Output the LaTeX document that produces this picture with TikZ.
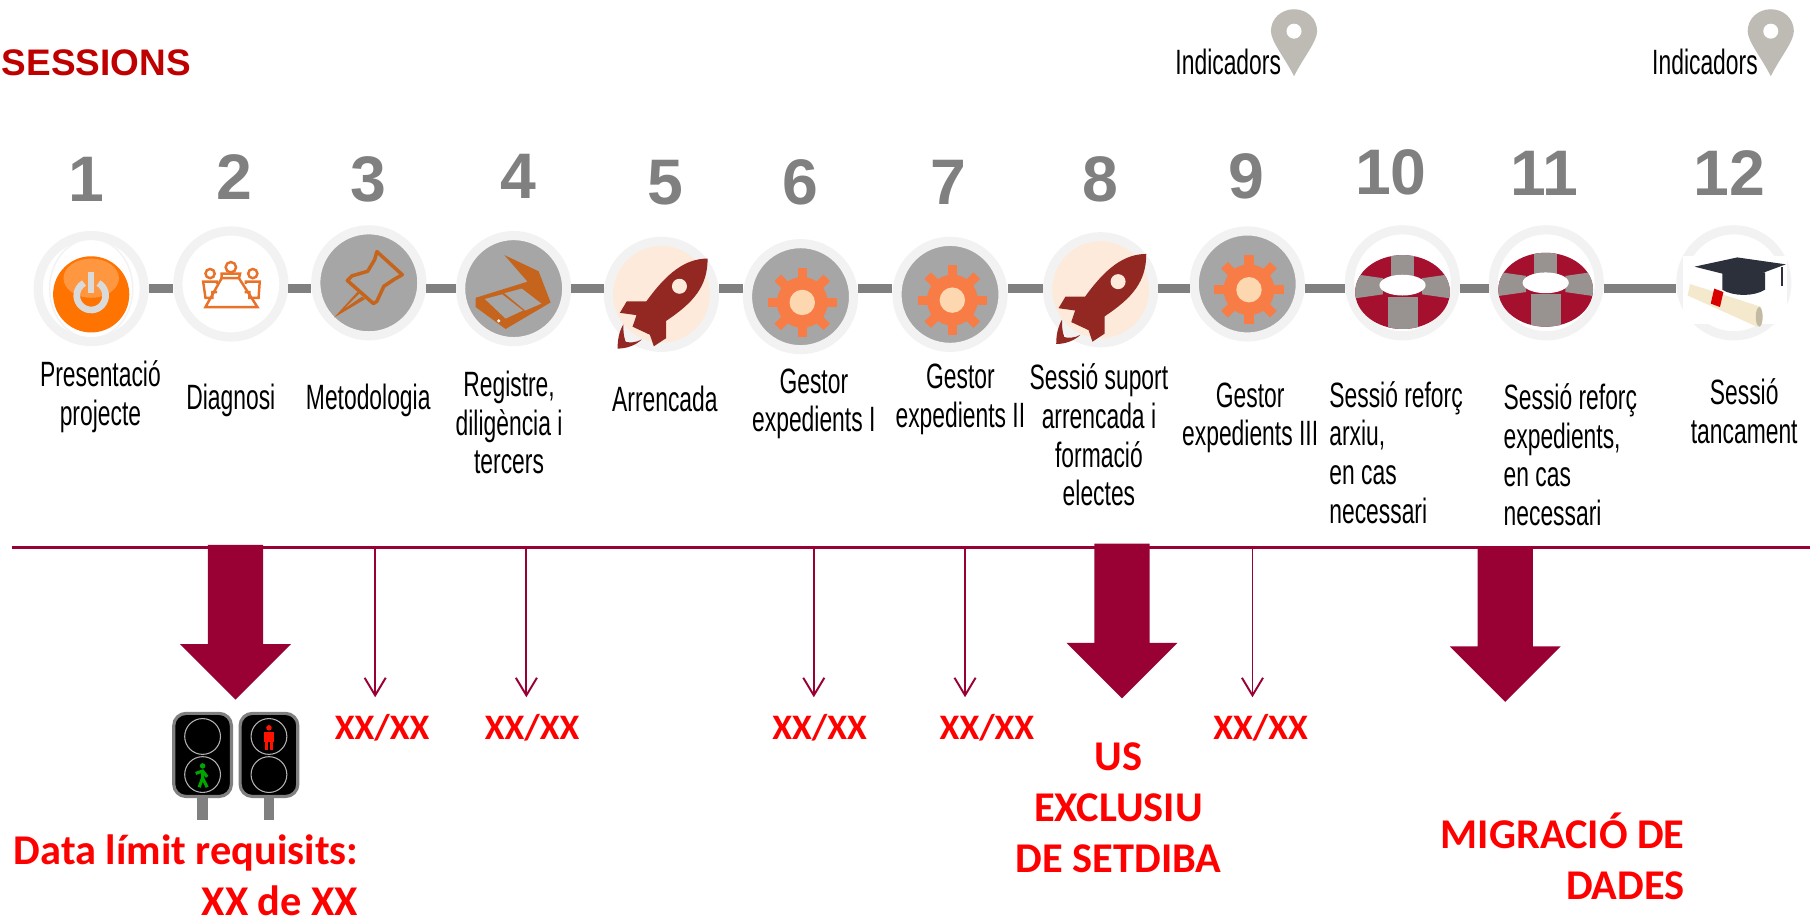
\documentclass[tikz,border=0pt]{standalone}
\usepackage{fontspec}
\setmainfont{Liberation Sans}
\newfontfamily\narrowfont[FakeStretch=0.65]{Liberation Sans}
\newfontfamily\redfont{Carlito}
\usepackage{tikz}
\usetikzlibrary{arrows.meta}

\definecolor{wine}{HTML}{990033}
\definecolor{ringgrey}{HTML}{F2F2F2}
\definecolor{discgrey}{HTML}{A6A6A6}
\definecolor{peach}{HTML}{FDEADA}
\definecolor{linkgrey}{HTML}{808080}
\definecolor{rocketred}{HTML}{932722}
\definecolor{gearorange}{HTML}{F87C46}
\definecolor{hubpeach}{HTML}{FDD7B0}
\definecolor{iconorange}{HTML}{C5651D}
\definecolor{meetorange}{HTML}{E8722A}
\definecolor{pingrey}{HTML}{BDBBB4}
\definecolor{buoyred}{HTML}{A5102F}
\definecolor{buoygrey}{HTML}{989290}
\definecolor{capblack}{HTML}{2B303A}
\definecolor{scrollcream}{HTML}{F4E9CC}

\tikzset{
    ringnode/.style={circle, draw=ringgrey, line width=2.6pt, minimum size=1.06cm, inner sep=0pt},
    numlabel/.style={text=linkgrey, font=\fontsize{18.3}{20}\selectfont\bfseries},
    steplabel/.style={text=black, align=center, font=\narrowfont\fontsize{10}{11}\selectfont},
    redlabel/.style={text=red, font=\redfont\fontsize{12.05}{14.5}\selectfont\bfseries},
    datelabel/.style={text=red, font=\redfont\fontsize{10.2}{12}\selectfont\bfseries},
    linkline/.style={linkgrey, line width=2.4pt},
    thinarrow/.style={wine, line width=0.55pt, -{Straight Barb[length=5pt,width=6pt,line width=0.55pt]}},
    gearicon/.pic={
        \foreach \a in {0,45,...,315}
            \fill[gearorange, rotate=\a] (-4,-30) rectangle (4,0);
        \fill[gearorange] (0,0) circle (22);
        \fill[hubpeach] (0,0) circle (11);
    },
    rocketicon/.pic={
        \fill[rocketred] (40,-34) .. controls (21,-34) and (5,-22) .. (-13,3) -- (-30,3) -- (-36,13) -- (-21.6,15) -- (-25,25)
            -- (-10,32) -- (-6.6,42) -- (4,35) -- (4,20) .. controls (28,4) and (40,-10) .. (40,-34) -- cycle;
        \fill[peach] (15.6,-10) circle (6.5);
        \fill[rocketred] (-33,23) .. controls (-37,30) and (-38,37) .. (-38,44) .. controls (-30,44) and (-22,41) .. (-17,36)
            .. controls (-22,39) and (-28,39) .. (-31,38) .. controls (-33,33) and (-33,28) .. (-33,23) -- cycle;
    },
    buoyicon/.pic={
        \begin{scope}
            \clip (0,8) ellipse (41 and 32);
            \fill[buoyred] (-45,-30) rectangle (45,45);
            \fill[buoygrey] (-10,-30) rectangle (10,-3);
            \fill[buoygrey] (-13,12) rectangle (13,45);
            \fill[buoygrey] (-45,-8) -- (-17,-4) -- (-17,10) -- (-45,14) -- cycle;
            \fill[buoygrey] (45,-8) -- (17,-4) -- (17,10) -- (45,14) -- cycle;
        \end{scope}
        \fill[white] (0,2) ellipse (20 and 9);
    },
    pinicon/.pic={
        \fill[pingrey] (0,58) .. controls (-8,42) and (-20,28) .. (-20,19) .. controls (-20,8) and (-11,0) .. (0,0)
            .. controls (11,0) and (20,8) .. (20,19) .. controls (20,28) and (8,42) .. (0,58) -- cycle;
        \fill[white] (0,19) circle (6.5);
    },
    bigarrow/.pic={
        \fill[wine] (-24,0) -- (24,0) -- (24,86) -- (48,86) -- (0,134) -- (-48,86) -- (-24,86) -- cycle;
    },
    lighticon/.pic={
        \fill[linkgrey] (-4.5,30) rectangle (4.5,56);
        \draw[linkgrey, line width=0.9pt, fill=black, rounded corners=3.5pt] (-25,-36) rectangle (25,36);
        \draw[linkgrey!60, line width=0.3pt, fill=black] (0,-16) circle (15.5);
        \draw[linkgrey!60, line width=0.3pt, fill=black] (0,17) circle (15.5);
    }
}

\begin{document}
\begin{tikzpicture}[x=0.011543cm, y=-0.011543cm]
    \useasboundingbox (0,0) rectangle (1568,797);

    \node[text=red!75!black, font=\fontsize{10.5}{12}\selectfont\bfseries, anchor=west, inner sep=0pt] (title) at (1,54) {SESSIONS};

    % indicadors
    \pic at (1121,8) {pinicon};
    \pic at (1534,8) {pinicon};
    \node[steplabel] (ind1) at (1064,54) {Indicadors};
    \node[steplabel] (ind2) at (1477,54) {Indicadors};

    % numbers
    \node[numlabel] (num1) at (75,155) {1};
    \node[numlabel] (num2) at (203,153) {2};
    \node[numlabel] (num3) at (319,155) {3};
    \node[numlabel] (num4) at (449,153) {4};
    \node[numlabel] (num5) at (576,158) {5};
    \node[numlabel] (num6) at (693,158) {6};
    \node[numlabel] (num7) at (822,158) {7};
    \node[numlabel] (num8) at (953,155) {8};
    \node[numlabel] (num9) at (1080,153) {9};
    \node[numlabel] (num10) at (1205,149) {10};
    \node[numlabel] (num11) at (1338,150) {11};
    \node[numlabel] (num12) at (1498,150) {12};

    % sessions
    \coordinate (rail) at (0,250);
    \node[ringnode, fill=white] (sess1) at (79,250) {};
    \node[ringnode, fill=white] (sess2) at (200,246) {};
    \node[ringnode, fill=discgrey] (sess3) at (319.5,245) {};
    \node[ringnode, fill=discgrey] (sess4) at (445,250) {};
    \node[ringnode, fill=peach] (sess5) at (573,255) {};
    \node[ringnode, fill=discgrey] (sess6) at (693.5,257) {};
    \node[ringnode, fill=discgrey] (sess7) at (823,255) {};
    \node[ringnode, fill=peach] (sess8) at (953.5,251) {};
    \node[ringnode, fill=discgrey] (sess9) at (1080.5,246) {};
    \node[ringnode, fill=white] (sess10) at (1215,245) {};
    \node[ringnode, fill=white] (sess11) at (1339.5,245) {};
    \node[ringnode, fill=white] (sess12) at (1502,245) {};

    \draw[linkline] (sess1.east |- rail) -- (sess2.west |- rail);
    \draw[linkline] (sess2.east |- rail) -- (sess3.west |- rail);
    \draw[linkline] (sess3.east |- rail) -- (sess4.west |- rail);
    \draw[linkline] (sess4.east |- rail) -- (sess5.west |- rail);
    \draw[linkline] (sess5.east |- rail) -- (sess6.west |- rail);
    \draw[linkline] (sess6.east |- rail) -- (sess7.west |- rail);
    \draw[linkline] (sess7.east |- rail) -- (sess8.west |- rail);
    \draw[linkline] (sess8.east |- rail) -- (sess9.west |- rail);
    \draw[linkline] (sess9.east |- rail) -- (sess10.west |- rail);
    \draw[linkline] (sess10.east |- rail) -- (sess11.west |- rail);
    \draw[linkline] (sess11.east |- rail) -- (sess12.west |- rail);

    % power button
    \draw[ringgrey, line width=0.4pt] (79,250) ellipse (36 and 43);
    \fill[orange!90!red] (79,255) circle (33);
    \fill[white, opacity=0.25] (79,241) ellipse (24 and 17);
    \draw[ringgrey!90!black, line width=1.9pt] (85.25,245.2) arc (-60:240:12.5);
    \draw[ringgrey!90!black, line width=1.7pt] (79,236) -- (79,254);

    % meeting
    \begin{scope}[shift={(200,246)}, meetorange, line width=0.7pt]
        \draw (-22,20) -- (23,20) -- (7,-5) -- (-8,-5) -- cycle;
        \draw (0,-14.5) circle (4.5);
        \draw (-8,-5) -- (-8,-9) -- (8,-9) -- (7,-5);
        \draw (-18,-9) circle (4);
        \draw (19,-9) circle (4);
        \draw (-12,7) -- (-16,7) -- (-16,12) -- (-22,12) -- (-24,-2) -- (-12,-2) -- (-12,0);
        \draw (12,7) -- (16,7) -- (16,12) -- (24,12) -- (25,-2) -- (13,-2) -- (13,0);
    \end{scope}

    % pin
    \begin{scope}[shift={(319.5,245)}, iconorange]
        \draw[line width=1pt, line join=round] (7,-27) -- (29,-7) -- (22,-3) -- (13,3) -- (7,16) -- (4,18) -- (-18.6,-2) -- (-14.6,-6) -- (-1,-10) -- (5,-20) -- cycle;
        \fill (-10,8) -- (-30,30) -- (-3,14) -- (-6,12) -- (-22,23) -- (-8,9) -- cycle;
    \end{scope}

    % scanner
    \begin{scope}[shift={(445,250)}]
        \fill[iconorange] (-8,-29) -- (21.6,-15) -- (32,12) -- (-7,35) -- (-33,16) -- (-33,8) -- (12,-6) -- cycle;
        \fill[discgrey] (-25,9) -- (-10,5) -- (8,19) -- (-7,26) -- cycle;
        \fill[discgrey] (-8,4) -- (7,0) -- (24,13) -- (10,19) -- cycle;
        \fill[ringgrey] (-13,28) circle (1.5);
    \end{scope}

    \pic at (573,258) {rocketicon};
    \pic at (953,254) {rocketicon};
    \pic at (695,262) {gearicon};
    \pic at (825,260) {gearicon};
    \pic at (1082,251) {gearicon};
    \pic at (1215,245) {buoyicon};
    \pic at (1339,243) {buoyicon};

    % cap and scroll
    \begin{scope}[shift={(1502,245)}]
        \fill[white] (-44,-23) rectangle (46,36);
        \fill[capblack] (-10,-9) -- (-10,6) .. controls (0,12) and (17,12) .. (27,6) -- (27,-9) -- cycle;
        \fill[capblack] (-34,-14) -- (3,-22) -- (45,-16) -- (10,-3) -- cycle;
        \draw[capblack, line width=0.6pt] (42,-14) -- (42,3);
        \fill[scrollcream] (-38,1) -- (24,21) -- (20,38) -- (-40,11) -- cycle;
        \fill[scrollcream!80!black] (22,29.5) ellipse (3 and 8.5);
        \fill[red!85!black] (-17,5) -- (-9,8) -- (-12,21) -- (-20,18) -- cycle;
    \end{scope}

    % step labels
    \node[steplabel] (lab1) at (87,343.5) {Presentació\\projecte};
    \node[steplabel] (lab2) at (200,347) {Diagnosi};
    \node[steplabel] (lab3) at (319,347) {Metodologia};
    \node[steplabel] (lab4) at (441,366) {Registre,\\diligència i\\tercers};
    \node[steplabel] (lab5) at (576,346) {Arrencada};
    \node[steplabel] (lab6) at (705,350) {Gestor\\expedients I};
    \node[steplabel] (lab7) at (832,346) {Gestor\\expedients II};
    \node[steplabel] (lab8) at (952,377) {Sessió suport\\arrencada i\\formació\\electes};
    \node[steplabel] (lab9) at (1083,362) {Gestor\\expedients III};
    \node[steplabel, align=left, anchor=west, inner sep=0pt] (lab10) at (1151,392) {Sessió reforç\\arxiu,\\en cas\\necessari};
    \node[steplabel, align=left, anchor=west, inner sep=0pt] (lab11) at (1302,394) {Sessió reforç\\expedients,\\en cas\\necessari};
    \node[steplabel] (lab12) at (1511,356) {Sessió\\tancament};

    % rail and arrows
    \coordinate (railL) at (10,474);
    \coordinate (railR) at (1568,474);
    \draw[wine, line width=0.9pt] (railL) -- (railR);

    \pic at (204,472) {bigarrow};
    \pic at (972,471) {bigarrow};
    \pic at (1304,474) {bigarrow};

    \coordinate (top1) at (325,474);
    \coordinate (top2) at (456,474);
    \coordinate (top3) at (705,474);
    \coordinate (top4) at (836,474);
    \coordinate (top5) at (1085,474);
    \coordinate (end1) at (325,604);
    \coordinate (end2) at (456,604);
    \coordinate (end3) at (705,604);
    \coordinate (end4) at (836,604);
    \coordinate (end5) at (1085,604);
    \draw[thinarrow] (top1) -- (end1);
    \draw[thinarrow] (top2) -- (end2);
    \draw[thinarrow] (top3) -- (end3);
    \draw[thinarrow] (top4) -- (end4);
    \draw[thinarrow] (top5) -- (end5);

    % traffic lights
    \pic at (175.5,654) {lighticon};
    \pic at (233,654) {lighticon};
    \begin{scope}[shift={(175.5,671)}, green!65!black, line width=0.9pt]
        \fill (0,-7.5) circle (2.4);
        \draw (0,-4) -- (0,3) -- (-3,11);
        \draw (0,3) -- (4,11);
        \draw (-6,-1) -- (0,-3) -- (4,2);
    \end{scope}
    \begin{scope}[shift={(233,638)}, red!85!orange, line width=1pt]
        \fill (0,-7.5) circle (2.4);
        \fill (-4,-4) rectangle (4,5);
        \draw (-2,4) -- (-2,12);
        \draw (2,4) -- (2,12);
    \end{scope}

    % red labels
    \node[datelabel] (date1) at (331,630) {XX/XX};
    \node[datelabel] (date2) at (461,630) {XX/XX};
    \node[datelabel] (date3) at (710,630) {XX/XX};
    \node[datelabel] (date4) at (855,630) {XX/XX};
    \node[datelabel] (date5) at (1092,630) {XX/XX};
    \node[redlabel, align=center] (setdiba) at (969,700) {US\\EXCLUSIU\\DE SETDIBA};
    \node[redlabel, align=right, anchor=east, inner sep=0pt] (migra) at (1460,742) {MIGRACIÓ DE\\DADES};
    \node[redlabel, align=right, anchor=east, inner sep=0pt] (limit) at (311,758) {Data límit requisits:\\XX de XX};
\end{tikzpicture}
\end{document}
